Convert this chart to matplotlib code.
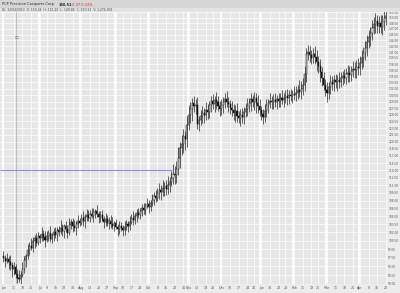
import numpy as np
import pandas as pd
import matplotlib
matplotlib.use('Agg')
import matplotlib.pyplot as plt
from matplotlib.patches import Rectangle
from matplotlib.ticker import NullLocator

# daily closes, Jun 1 2012 .. Apr 2013
closes = [
    97.4, 96.9, 97.3,
    96.8, 96.2, 95.5, 95.9, 94.6, 94.0, 93.8, 94.5, 95.6, 97.0,
    97.8, 98.9, 99.6, 99.2, 100.4, 100.9, 100.1, 101.3, 101.0, 101.8,
    101.2, 100.6, 101.4, 101.9, 100.8, 101.5, 102.0, 101.6, 102.4, 102.1,
    102.9, 102.3, 103.2, 102.6, 101.9, 103.4, 103.9, 103.1, 102.8, 103.6,
    104.2, 103.8, 104.6, 104.1, 104.9, 105.3, 104.7, 105.5, 105.0, 105.8,
    106.0, 105.4, 104.8, 105.2, 104.5, 104.0, 104.4, 103.8, 104.2, 103.6,
    103.2, 103.7, 103.0, 102.6, 103.1, 102.8, 102.4, 103.0, 103.5, 103.2,
    104.0, 104.6, 104.3, 105.1, 105.6, 105.2, 106.0, 106.5, 106.1, 106.9,
    107.3, 106.8, 107.6, 108.2, 108.9, 108.5, 109.4, 110.0, 109.6, 110.4,
    110.8, 110.3, 111.0, 111.7, 112.5, 113.3, 113.0, 114.2, 116.5, 118.6,
    119.5, 121.2, 120.6, 123.8, 125.9, 127.4, 128.6, 127.9, 128.3, 124.0,
    124.8, 125.6, 126.3, 125.9, 127.0, 126.6, 128.2, 129.1, 128.5, 129.4,
    128.8, 127.9, 127.2, 128.1, 129.0, 129.6, 128.9, 128.4, 127.5, 127.0,
    126.4, 126.9, 125.8, 125.3, 126.0, 125.5, 126.6, 127.3, 128.0, 128.6,
    129.5, 129.0, 129.8, 128.7, 128.0, 127.0, 126.2, 125.5, 126.9, 128.2,
    128.6, 129.1, 128.8, 129.4, 129.0, 129.6, 129.2, 129.8, 129.4, 129.9,
    130.3, 129.9, 130.6, 130.2, 130.8, 130.5, 131.1, 131.6, 131.3, 132.0,
    133.0, 135.5, 140.5, 141.0, 140.2, 139.5, 140.6, 139.8, 138.6, 137.4,
    136.0, 134.5, 133.0, 131.8, 131.0, 132.5, 133.6, 133.2, 134.0, 133.5,
    134.2, 133.7, 134.6, 135.1, 134.7, 135.5, 135.9, 135.4, 136.2, 136.8,
    136.5, 137.3, 137.0, 138.2, 139.5, 140.8, 141.9, 143.5, 144.8, 146.0,
    147.2, 148.4, 149.1, 147.8, 148.6, 147.5, 148.8, 149.9, 150.5,
]
first_open = 97.8

# wick lengths above / below the body, in fifths of a point
hi_wick = [
    4, 3, 5, 2, 6, 3, 4, 2, 5, 7, 3, 6, 4, 2, 5, 3, 7, 4, 3, 5,
    4, 2, 6, 3, 5, 4, 3, 6, 2, 4, 5, 3, 4, 7, 3, 2, 5, 4, 6, 3,
    4, 6, 3, 5, 2, 4, 7, 3, 5, 4, 3, 5, 4, 2, 6, 3, 4, 5, 3, 6,
    4, 3, 5, 6, 2, 4, 3, 5, 4, 3, 6, 4, 3, 5, 4, 7, 3, 4, 5, 3,
    4, 5, 3, 6, 4, 3, 5, 4, 6, 5, 7, 5, 8, 4, 6, 9, 5, 7, 10, 8,
    9, 12, 7, 10, 8, 6, 9, 11, 7, 6, 8, 6, 9, 5, 7, 8, 6, 10, 7, 5,
    6, 8, 5, 9, 7, 6, 8, 5, 7, 9, 6, 5, 8, 7, 6, 9, 5, 7, 8, 6,
    7, 9, 6, 8, 5, 7, 6, 9, 8, 5, 6, 8, 7, 5, 9, 6, 7, 8, 5, 7,
    6, 9, 5, 7, 8, 6, 7, 5, 9, 8, 7, 12, 9, 8, 10, 7, 9, 8, 6, 7,
    10, 8, 7, 9, 6, 8, 7, 9, 6, 8, 7, 6, 8, 5, 9, 7, 6, 8, 7, 9,
    8, 7, 10, 9, 8, 11, 9, 10, 8, 9, 10, 9, 8, 11, 9, 10, 8, 9, 11, 10,
    9, 8,
]
lo_wick = [
    3, 5, 2, 6, 4, 7, 5, 3, 4, 2, 5, 2, 4, 6, 3, 5, 2, 4, 6, 3,
    2, 5, 3, 4, 6, 2, 5, 3, 4, 5, 3, 6, 4, 2, 5, 7, 3, 5, 2, 4,
    5, 3, 6, 4, 3, 2, 5, 6, 4, 3, 4, 2, 5, 6, 3, 5, 4, 2, 6, 4,
    3, 6, 4, 3, 5, 2, 6, 4, 3, 5, 4, 3, 6, 4, 2, 5, 4, 6, 3, 4,
    5, 3, 4, 2, 6, 4, 3, 5, 4, 3, 5, 7, 4, 8, 6, 5, 7, 4, 6, 9,
    8, 6, 10, 7, 9, 12, 8, 6, 9, 14, 7, 9, 6, 8, 5, 7, 9, 6, 8, 7,
    8, 6, 9, 7, 5, 8, 6, 9, 7, 6, 9, 7, 6, 8, 10, 7, 6, 9, 7, 8,
    6, 8, 7, 9, 6, 10, 12, 8, 6, 7, 8, 6, 7, 9, 5, 7, 8, 6, 9, 7,
    7, 5, 8, 6, 9, 7, 5, 8, 6, 7, 8, 6, 9, 7, 8, 10, 7, 9, 8, 6,
    9, 11, 8, 12, 9, 7, 8, 10, 7, 9, 8, 9, 7, 10, 8, 6, 9, 7, 8, 10,
    9, 8, 7, 9, 10, 8, 9, 7, 11, 9, 10, 8, 11, 9, 8, 12, 10, 9, 8, 11,
    10, 9,
]

holidays = ['2012-07-04', '2012-09-03', '2012-10-29', '2012-10-30',
            '2012-11-22', '2012-12-25', '2013-01-01', '2013-01-21',
            '2013-02-18', '2013-03-29']

level_price = 114.0      # blue horizontal level
level_end_bar = 97.5
cursor_bar = 7.5

y_ticks = np.arange(93.0, 151.6, 1.5)

title_name = 'PCP Precision Castparts Corp'
title_last = '150.51'
title_chg = '-0.37'
title_pct = '-0.24%'
info_line = 'Dt: 22/04/2013  O: 150.24  H: 151.20  L: 149.86  C: 150.51  V: 1,274,901'

n = len(closes)
dates = pd.bdate_range('2012-06-01', '2013-06-30', freq='C', holidays=holidays)[:n]
x = np.arange(n)
c = np.array(closes)
o = np.concatenate([[first_open], c[:-1]])
hi = np.maximum(o, c) + np.array(hi_wick) / 5.0
lo = np.minimum(o, c) - np.array(lo_wick) / 5.0

# weekly ticks, month name on the first week of a month
tick_pos, tick_lab, month_pos = [], [], []
prev_week, prev_month = None, None
for i, d in enumerate(dates):
    wk = d.isocalendar()[1]
    if wk != prev_week:
        if d.month != prev_month:
            month_pos.append(i - 0.5)
        if not tick_pos or i - tick_pos[-1] >= 3:
            if d.month != prev_month:
                tick_lab.append(d.strftime('%b'))
            else:
                tick_lab.append(str(d.day))
            tick_pos.append(i)
        prev_month = d.month
    prev_week = wk

fig = plt.figure(figsize=(4, 2.93), dpi=100, facecolor='#ececec')
fig.patches.append(Rectangle((0, 1 - 8 / 293), 1, 8 / 293, transform=fig.transFigure,
                             facecolor='#d6d6d6', edgecolor='none', zorder=0))
fig.patches.append(Rectangle((0, 1 - 12 / 293), 1, 4 / 293, transform=fig.transFigure,
                             facecolor='#e2e2e2', edgecolor='none', zorder=0))

fs = 2.5
fig.text(0.005, 1 - 4.5 / 293, title_name, fontsize=fs, color='#222', va='center')
fig.text(0.146, 1 - 4.5 / 293, title_last, fontsize=fs, color='#222', va='center', weight='bold')
fig.text(0.180, 1 - 4.5 / 293, title_chg, fontsize=fs, color='#e02020', va='center')
fig.text(0.203, 1 - 4.5 / 293, title_pct, fontsize=fs, color='#e02020', va='center')
fig.text(0.005, 1 - 10 / 293, info_line, fontsize=2.2, color='#444', va='center')

ax = fig.add_axes([0.0, 0.031, 0.968, 0.928])
ax.set_facecolor('#e6e6e6')
ax.set_yscale('log')
ax.set_ylim(93.4, 151.5)
ax.set_xlim(-2.0, n - 0.2)

ax.yaxis.tick_right()
ax.set_yticks(y_ticks)
ax.set_yticklabels(['%.2f' % t for t in y_ticks])
ax.yaxis.set_minor_locator(NullLocator())
ax.set_xticks(tick_pos)
ax.set_xticklabels(tick_lab)
ax.tick_params(axis='y', length=0, pad=0.8, labelsize=2.1, colors='#555')
ax.tick_params(axis='x', length=0, pad=1.5, labelsize=2.3, colors='#555')
ax.grid(True, color='white', lw=0.5)
ax.set_axisbelow(True)
for s in ax.spines.values():
    s.set_visible(False)

for m in month_pos:
    ax.axvline(m, color='white', lw=1.3, zorder=0.5)
ax.axvline(cursor_bar, color='#a9b9c3', lw=0.6, zorder=1)
ax.hlines(level_price, -2.0, level_end_bar, color='#8f8fe8', lw=0.8, zorder=1.5)
ax.text(0.037, 0.9, '\u25ab', transform=ax.transAxes, fontsize=4, color='#777')

up = c >= o
body_lo = np.minimum(o, c)
body_h = np.maximum(np.abs(c - o), 0.08)
ax.vlines(x, lo, hi, color='#111', lw=0.45, zorder=2)
ax.bar(x, body_h, bottom=body_lo, width=0.62,
       color=np.where(up, 'white', '#111'), edgecolor='#111', linewidth=0.35, zorder=3)

fig.savefig('out.png', dpi=100, facecolor=fig.get_facecolor())
